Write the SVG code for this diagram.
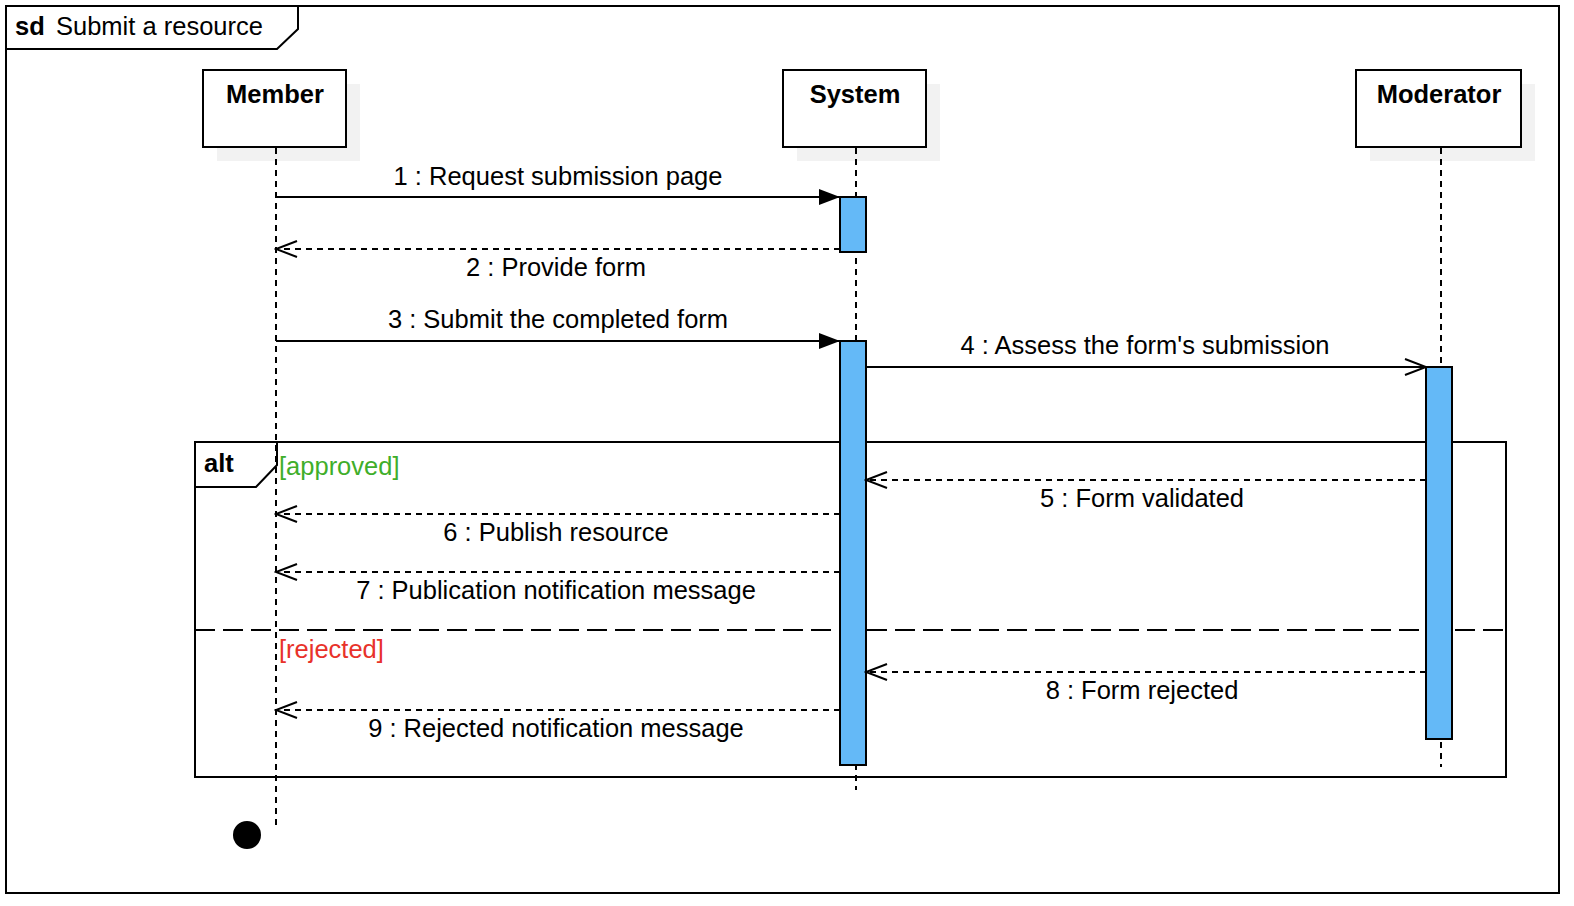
<svg xmlns="http://www.w3.org/2000/svg" width="1574" height="906" viewBox="0 0 1574 906">
<style>
text{font-family:"Liberation Sans",Arial,sans-serif;fill:#000;font-size:25.5px}
.lbl{text-anchor:middle}
.b{font-weight:bold}
.box{fill:#fff;stroke:#000;stroke-width:2}
.sh{fill:#f2f2f2}
.life{stroke:#000;stroke-width:2;stroke-dasharray:6,5;fill:none}
.act{fill:#64b9f7;stroke:#000;stroke-width:2}
.msg{stroke:#000;stroke-width:2;fill:none}
.ret{stroke:#000;stroke-width:2;fill:none;stroke-dasharray:6,5}
</style>
<defs>
<marker id="fill" markerWidth="22" markerHeight="16" refX="21" refY="8" orient="auto" markerUnits="userSpaceOnUse"><path d="M0,0 L21,8 L0,16 z" fill="#000"/></marker>
<marker id="open" markerWidth="24" markerHeight="20" refX="22" refY="9" orient="auto" markerUnits="userSpaceOnUse"><path d="M1,1 L22,9 L1,17" fill="none" stroke="#000" stroke-width="2"/></marker>
</defs>
<rect width="1574" height="906" fill="#fff"/>
<g id="frame">
<rect x="6" y="6" width="1553" height="887" fill="none" stroke="#000" stroke-width="2"/>
<path d="M6,49 L277,49 L298,29 L298,6" fill="none" stroke="#000" stroke-width="2"/>
<text x="15" y="35" class="b">sd</text>
<text x="56" y="35">Submit a resource</text>
</g>
<g id="member">
<rect class="sh" x="217" y="84" width="143" height="77"/>
<rect class="box" x="203" y="70" width="143" height="77"/>
<text x="275" y="103" class="b" text-anchor="middle">Member</text>
<line class="life" x1="276" y1="148" x2="276" y2="826"/>
<circle cx="247" cy="835" r="14" fill="#000"/>
</g>
<g id="system">
<rect class="sh" x="797" y="84" width="143" height="77"/>
<rect class="box" x="783" y="70" width="143" height="77"/>
<text x="855" y="103" class="b" text-anchor="middle">System</text>
<line class="life" x1="856" y1="148" x2="856" y2="790"/>
</g>
<g id="moderator">
<rect class="sh" x="1370" y="84" width="165" height="77"/>
<rect class="box" x="1356" y="70" width="165" height="77"/>
<text x="1439" y="103" class="b" text-anchor="middle">Moderator</text>
<line class="life" x1="1441" y1="148" x2="1441" y2="767"/>
</g>
<g id="alt">
<rect x="195" y="442" width="1311" height="335" fill="none" stroke="#000" stroke-width="2"/>
<path d="M195,487 L256,487 L277,465 L277,442" fill="none" stroke="#000" stroke-width="2"/>
<text x="204" y="472" class="b">alt</text>
<text x="279" y="475" style="fill:#3fae2a">[approved]</text>
<line x1="195" y1="630" x2="1506" y2="630" stroke="#000" stroke-width="2" stroke-dasharray="20,8"/>
<text x="279" y="658" style="fill:#e8322a">[rejected]</text>
</g>
<g id="activations">
<rect class="act" x="840" y="197" width="26" height="55"/>
<rect class="act" x="840" y="341" width="26" height="424"/>
<rect class="act" x="1426" y="367" width="26" height="372"/>
</g>
<g id="connectors">
<line class="msg" x1="276" y1="197" x2="840" y2="197" marker-end="url(#fill)"/>
<text class="lbl" x="558" y="185">1 : Request submission page</text>
<line class="ret" x1="840" y1="249" x2="276" y2="249" marker-end="url(#open)"/>
<text class="lbl" x="556" y="276">2 : Provide form</text>
<line class="msg" x1="276" y1="341" x2="840" y2="341" marker-end="url(#fill)"/>
<text class="lbl" x="558" y="328">3 : Submit the completed form</text>
<line class="msg" x1="866" y1="367" x2="1426" y2="367" marker-end="url(#open)"/>
<text class="lbl" x="1145" y="354">4 : Assess the form's submission</text>
<line class="ret" x1="1426" y1="480" x2="866" y2="480" marker-end="url(#open)"/>
<text class="lbl" x="1142" y="507">5 : Form validated</text>
<line class="ret" x1="840" y1="514" x2="276" y2="514" marker-end="url(#open)"/>
<text class="lbl" x="556" y="541">6 : Publish resource</text>
<line class="ret" x1="840" y1="572" x2="276" y2="572" marker-end="url(#open)"/>
<text class="lbl" x="556" y="599">7 : Publication notification message</text>
<line class="ret" x1="1426" y1="672" x2="866" y2="672" marker-end="url(#open)"/>
<text class="lbl" x="1142" y="699">8 : Form rejected</text>
<line class="ret" x1="840" y1="710" x2="276" y2="710" marker-end="url(#open)"/>
<text class="lbl" x="556" y="737">9 : Rejected notification message</text>
</g>
</svg>
